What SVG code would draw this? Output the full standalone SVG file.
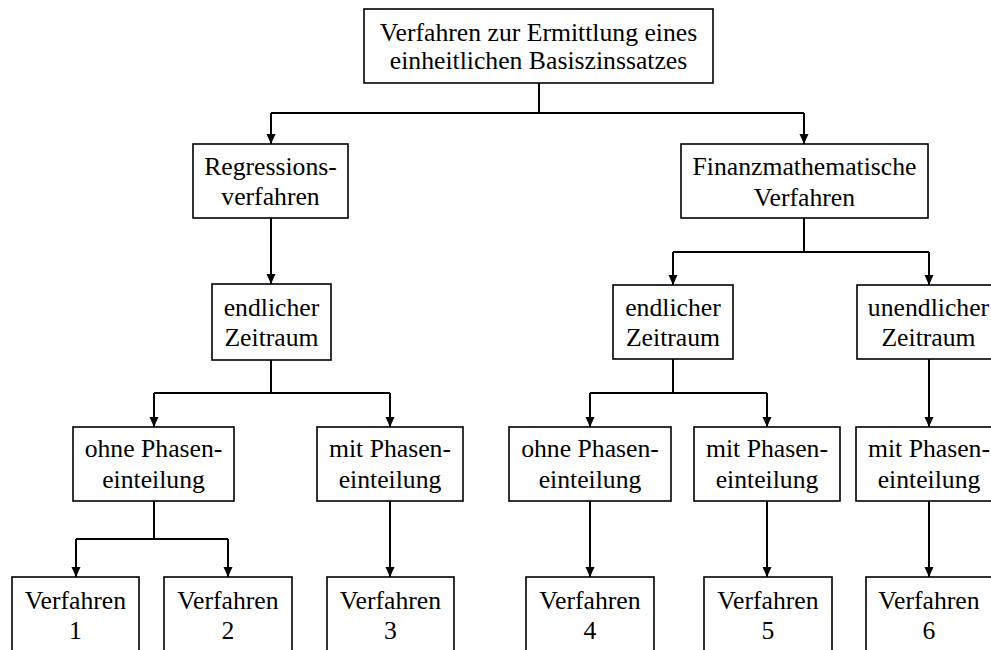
<svg xmlns="http://www.w3.org/2000/svg" width="991" height="650" viewBox="0 0 991 650">
<defs>
<style>
.box{fill:#fff;stroke:#000;stroke-width:1.6}
.t{font-family:'Liberation Serif','Times New Roman',serif;font-size:25.7px;fill:#000;text-anchor:middle}
.c{fill:none;stroke:#000;stroke-width:2}
</style>
<marker id="ah" markerUnits="userSpaceOnUse" markerWidth="10" markerHeight="10" viewBox="0 0 10 10" refX="10" refY="5" orient="auto">
<path d="M0,0.5 L10,5 L0,9.5 z" fill="#000"/>
</marker>
</defs>
<rect width="991" height="650" fill="#fff"/>
<g id="connectors">
<path class="c" d="M539,83 V113 M271,113 H804"/>
<path class="c" d="M271,113 V144" marker-end="url(#ah)"/>
<path class="c" d="M804,113 V144" marker-end="url(#ah)"/>
<path class="c" d="M271,218 V284" marker-end="url(#ah)"/>
<path class="c" d="M271,360 V393 M154,393 H390"/>
<path class="c" d="M154,393 V427" marker-end="url(#ah)"/>
<path class="c" d="M390,393 V427" marker-end="url(#ah)"/>
<path class="c" d="M154,501 V539 M76,539 H228"/>
<path class="c" d="M76,539 V577" marker-end="url(#ah)"/>
<path class="c" d="M228,539 V577" marker-end="url(#ah)"/>
<path class="c" d="M390,501 V577" marker-end="url(#ah)"/>
<path class="c" d="M804,218 V252 M673,252 H929"/>
<path class="c" d="M673,252 V285" marker-end="url(#ah)"/>
<path class="c" d="M929,252 V285" marker-end="url(#ah)"/>
<path class="c" d="M673,359 V393 M590,393 H767"/>
<path class="c" d="M590,393 V427" marker-end="url(#ah)"/>
<path class="c" d="M767,393 V427" marker-end="url(#ah)"/>
<path class="c" d="M929,359 V427" marker-end="url(#ah)"/>
<path class="c" d="M590,501 V577" marker-end="url(#ah)"/>
<path class="c" d="M767,501 V577" marker-end="url(#ah)"/>
<path class="c" d="M929,501 V577" marker-end="url(#ah)"/>
</g>
<g id="root"><rect class="box" x="364" y="9" width="349" height="74"/>
<text class="t" x="538.5" y="41">Verfahren zur Ermittlung eines</text>
<text class="t" x="538.5" y="69">einheitlichen Basiszinssatzes</text></g>
<g id="regression"><rect class="box" x="193" y="144" width="155" height="74"/>
<text class="t" x="270.5" y="175">Regressions-</text>
<text class="t" x="270.5" y="205">verfahren</text></g>
<g id="finanz"><rect class="box" x="681" y="144" width="247" height="74"/>
<text class="t" x="804.5" y="175">Finanzmathematische</text>
<text class="t" x="804.5" y="206">Verfahren</text></g>
<g id="endlich1"><rect class="box" x="212" y="284" width="119" height="76"/>
<text class="t" x="271.5" y="316">endlicher</text>
<text class="t" x="271.5" y="346">Zeitraum</text></g>
<g id="endlich2"><rect class="box" x="613" y="285" width="120" height="74"/>
<text class="t" x="673" y="316">endlicher</text>
<text class="t" x="673" y="346">Zeitraum</text></g>
<g id="unendlich"><rect class="box" x="857" y="285" width="145" height="74"/>
<text class="t" x="928.5" y="316">unendlicher</text>
<text class="t" x="928.5" y="346">Zeitraum</text></g>
<g id="ohne1"><rect class="box" x="73" y="427" width="161" height="74"/>
<text class="t" x="153.5" y="457">ohne Phasen-</text>
<text class="t" x="153.5" y="488">einteilung</text></g>
<g id="mit1"><rect class="box" x="317" y="427" width="146" height="74"/>
<text class="t" x="390" y="457">mit Phasen-</text>
<text class="t" x="390" y="488">einteilung</text></g>
<g id="ohne2"><rect class="box" x="509" y="427" width="162" height="74"/>
<text class="t" x="590" y="457">ohne Phasen-</text>
<text class="t" x="590" y="488">einteilung</text></g>
<g id="mit2"><rect class="box" x="694" y="427" width="146" height="74"/>
<text class="t" x="767" y="457">mit Phasen-</text>
<text class="t" x="767" y="488">einteilung</text></g>
<g id="mit3"><rect class="box" x="856" y="427" width="146" height="74"/>
<text class="t" x="929" y="457">mit Phasen-</text>
<text class="t" x="929" y="488">einteilung</text></g>
<g id="v1"><rect class="box" x="12" y="577" width="127" height="90"/>
<text class="t" x="75.5" y="609">Verfahren</text><text class="t" x="75.5" y="639">1</text></g>
<g id="v2"><rect class="box" x="164" y="577" width="128" height="90"/>
<text class="t" x="228" y="609">Verfahren</text><text class="t" x="228" y="639">2</text></g>
<g id="v3"><rect class="box" x="327" y="577" width="127" height="90"/>
<text class="t" x="390.5" y="609">Verfahren</text><text class="t" x="390.5" y="639">3</text></g>
<g id="v4"><rect class="box" x="526" y="577" width="128" height="90"/>
<text class="t" x="590" y="609">Verfahren</text><text class="t" x="590" y="639">4</text></g>
<g id="v5"><rect class="box" x="704" y="577" width="128" height="90"/>
<text class="t" x="768" y="609">Verfahren</text><text class="t" x="768" y="639">5</text></g>
<g id="v6"><rect class="box" x="866" y="577" width="126" height="90"/>
<text class="t" x="929" y="609">Verfahren</text><text class="t" x="929" y="639">6</text></g>
</svg>
